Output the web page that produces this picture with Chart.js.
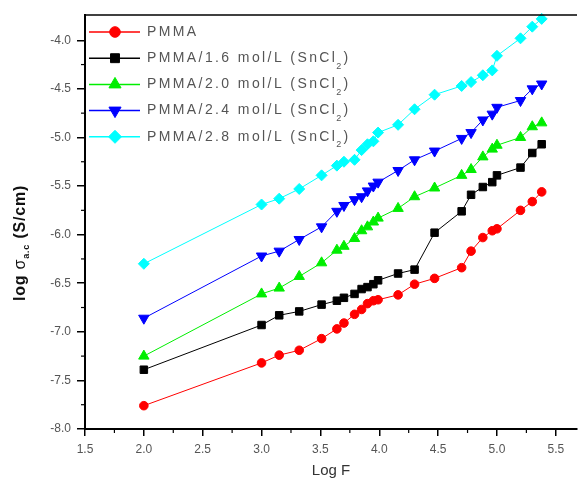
<!DOCTYPE html>
<html>
<head>
<meta charset="utf-8">
<script src="https://cdn.jsdelivr.net/npm/chart.js@4"></script>
<style>
  html, body { margin: 0; padding: 0; background: #fff; }
  #wrap { width: 584px; height: 483px; }
</style>
</head>
<body>
<div id="wrap"><canvas id="condChart" width="584" height="483"></canvas></div>
<script>
// log of frequency, shared by all samples
const logF = [2.0, 3.0, 3.15, 3.32, 3.51, 3.64, 3.70, 3.79, 3.85, 3.90, 3.95, 3.99,
              4.16, 4.30, 4.47, 4.70, 4.78, 4.88, 4.96, 5.0, 5.20, 5.30, 5.38];

// log sigma a.c (S/cm) for each sample
const pmma  = [-7.76, -7.32, -7.24, -7.19, -7.07, -6.97, -6.91, -6.82, -6.77, -6.71, -6.68, -6.67,
               -6.62, -6.51, -6.45, -6.34, -6.17, -6.03, -5.96, -5.94, -5.75, -5.66, -5.56];
const sn16  = [-7.39, -6.93, -6.83, -6.79, -6.72, -6.68, -6.65, -6.61, -6.56, -6.54, -6.51, -6.47,
               -6.40, -6.36, -5.98, -5.76, -5.59, -5.51, -5.46, -5.39, -5.31, -5.16, -5.07];
const sn20  = [-7.25, -6.61, -6.55, -6.43, -6.29, -6.16, -6.12, -6.04, -5.96, -5.92, -5.87, -5.83,
               -5.73, -5.61, -5.52, -5.39, -5.33, -5.20, -5.12, -5.08, -5.00, -4.89, -4.85];
const sn24  = [-6.86, -6.22, -6.17, -6.05, -5.92, -5.76, -5.70, -5.64, -5.61, -5.55, -5.50, -5.46,
               -5.34, -5.23, -5.14, -5.01, -4.95, -4.82, -4.76, -4.69, -4.62, -4.50, -4.45];
const sn28  = [-6.30, -5.69, -5.63, -5.53, -5.39, -5.29, -5.25, -5.23, -5.13, -5.07, -5.04, -4.95,
               -4.87, -4.71, -4.56, -4.47, -4.43, -4.36, -4.31, -4.16, -3.98, -3.86, -3.78];

const seriesNames = ['PMMA', 'PMMA/1.6 mol/L (SnCl', 'PMMA/2.0 mol/L (SnCl', 'PMMA/2.4 mol/L (SnCl', 'PMMA/2.8 mol/L (SnCl'];
const seriesValues = [pmma, sn16, sn20, sn24, sn28];
const seriesColors = ['#ff0000', '#000000', '#00ee00', '#0000ff', '#00ffff'];
const seriesMarks = [
  { style: 'circle', r: 4.3, rot: 0 },
  { style: 'rect', r: 5.3, rot: 0 },
  { style: 'triangle', r: 6, rot: 0 },
  { style: 'triangle', r: 6, rot: 180 },
  { style: 'rectRot', r: 5.5, rot: 0 }
];

const xTicks = [1.5, 5.5];   // first / last labelled tick on Log F
const yTicks = [-8.0, -4.0]; // first / last labelled tick on log sigma

const FONT = '"Liberation Sans", Arial, sans-serif';

const datasets = seriesValues.map((vals, i) => ({
  label: seriesNames[i],
  data: vals.map((v, j) => ({ x: logF[j], y: v })),
  showLine: true,
  borderColor: seriesColors[i],
  backgroundColor: seriesColors[i],
  pointBackgroundColor: seriesColors[i],
  pointBorderColor: seriesColors[i],
  borderWidth: 1,
  pointBorderWidth: 1,
  pointStyle: seriesMarks[i].style,
  pointRadius: seriesMarks[i].r,
  pointRotation: seriesMarks[i].rot,
  clip: false
}));

// minor ticks, top frame line, y title and legend
const extras = {
  id: 'extras',
  afterDraw(chart) {
    const ctx = chart.ctx;
    const area = chart.chartArea;
    const xs = chart.scales.x, ys = chart.scales.y;
    ctx.save();
    ctx.strokeStyle = '#000';
    ctx.lineWidth = 1.5;
    // top frame
    ctx.beginPath();
    ctx.moveTo(area.left - 1, area.top);
    ctx.lineTo(area.right, area.top);
    ctx.stroke();
    // minor ticks
    ctx.lineWidth = 1.2;
    for (let i = 0; i < xs.ticks.length - 1; i++) {
      const v = (xs.ticks[i].value + xs.ticks[i + 1].value) / 2;
      const px = xs.getPixelForValue(v);
      ctx.beginPath();
      ctx.moveTo(px, area.bottom);
      ctx.lineTo(px, area.bottom + 4);
      ctx.stroke();
    }
    for (let i = 0; i < ys.ticks.length - 1; i++) {
      const v = (ys.ticks[i].value + ys.ticks[i + 1].value) / 2;
      const py = ys.getPixelForValue(v);
      ctx.beginPath();
      ctx.moveTo(area.left, py);
      ctx.lineTo(area.left - 4, py);
      ctx.stroke();
    }

    // y axis title with subscript
    ctx.translate(21, 243);
    ctx.rotate(-Math.PI / 2);
    ctx.fillStyle = '#111';
    ctx.textBaseline = 'middle';
    const big = 'bold 16px ' + FONT, small = 'bold 9px ' + FONT;
    const parts = [['log ', big, 0], ['\u03c3', '16px ' + FONT, 0], ['a.c', small, 6], [' (S/cm)', big, 0]];
    ctx.letterSpacing = '0.8px';
    let total = 0;
    parts.forEach(p => { ctx.font = p[1]; total += ctx.measureText(p[0]).width; });
    let cx = -total / 2;
    parts.forEach(p => {
      ctx.font = p[1];
      ctx.fillText(p[0], cx, p[2]);
      cx += ctx.measureText(p[0]).width;
    });
    ctx.restore();

    // legend
    ctx.save();
    ctx.textBaseline = 'middle';
    chart.data.datasets.forEach((ds, i) => {
      const y = 32 + i * 26.2;
      ctx.strokeStyle = ds.borderColor;
      ctx.lineWidth = 1.5;
      ctx.beginPath();
      ctx.moveTo(89, y);
      ctx.lineTo(140, y);
      ctx.stroke();
      ctx.fillStyle = ds.backgroundColor;
      ctx.strokeStyle = ds.borderColor;
      ctx.lineWidth = 1;
      Chart.helpers.drawPoint(ctx, {
        pointStyle: ds.pointStyle, radius: ds.pointRadius + 1,
        rotation: ds.pointRotation, borderWidth: 1
      }, 115, y);
      ctx.fillStyle = '#555';
      ctx.font = '14px ' + FONT;
      ctx.letterSpacing = '2.4px';
      ctx.fillText(ds.label, 147, y);
      if (i > 0) {
        let w = ctx.measureText(ds.label).width;
        ctx.font = '9px ' + FONT;
        ctx.letterSpacing = '0px';
        ctx.fillText('2', 147 + w - 1, y + 8);
        w += ctx.measureText('2').width + 1;
        ctx.font = '14px ' + FONT;
        ctx.letterSpacing = '2.4px';
        ctx.fillText(')', 147 + w, y);
      }
    });
    ctx.restore();
  }
};

new Chart(document.getElementById('condChart').getContext('2d'), {
  type: 'scatter',
  data: { datasets: datasets },
  options: {
    responsive: false,
    animation: false,
    layout: { padding: { top: 15, right: 0, left: 0, bottom: 0 } },
    plugins: {
      legend: { display: false },
      tooltip: { enabled: false }
    },
    scales: {
      x: {
        type: 'linear',
        min: 1.5,
        max: 5.68,
        afterFit: (scale) => { scale.height = 54; },
        border: { color: '#000', width: 2 },
        grid: { drawOnChartArea: false, drawTicks: true, tickLength: 7, color: '#000', lineWidth: 1.5 },
        ticks: {
          stepSize: 0.5,
          includeBounds: false,
          padding: 6,
          color: '#555',
          font: { family: FONT, size: 12 },
          maxRotation: 0,
          callback: (v) => (v >= xTicks[0] && v <= xTicks[1]) ? v.toFixed(1) : ''
        },
        title: {
          display: true,
          text: 'Log F',
          color: '#333',
          font: { family: FONT, size: 15 },
          padding: { top: 4, bottom: 3 }
        }
      },
      y: {
        type: 'linear',
        min: -8,
        max: -3.74,
        afterFit: (scale) => { scale.width = 85; },
        border: { color: '#000', width: 2 },
        grid: { drawOnChartArea: false, drawTicks: true, tickLength: 8, color: '#000', lineWidth: 1.5 },
        ticks: {
          stepSize: 0.5,
          includeBounds: false,
          padding: 6,
          color: '#555',
          font: { family: FONT, size: 12 },
          callback: (v) => (v >= yTicks[0] && v <= yTicks[1]) ? v.toFixed(1) : ''
        }
      }
    }
  },
  plugins: [extras]
});
</script>
</body>
</html>
